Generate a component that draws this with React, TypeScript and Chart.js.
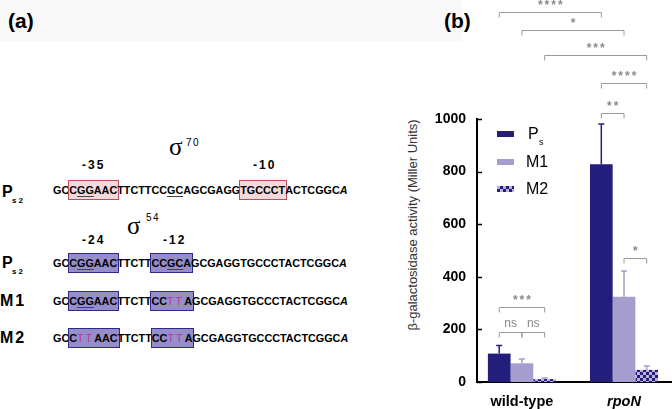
import React, { useEffect, useRef } from 'react';
import { Chart, registerables } from 'chart.js';
Chart.register(...registerables);

const FONT = '"Liberation Sans", Arial, Helvetica, sans-serif';

// ---------- data ----------
const categories = ['wild-type', 'rpoN'];
const seriesNames = ['Ps', 'M1', 'M2'];
const psValues = [108, 828];
const m1Values = [71, 324];
const m2Values = [11, 46];
const psErrTop = [139, 981];
const m1ErrTop = [87, 422];
const m2ErrTop = [15, 61];
const yTickStep = 200;
const yMax = 1000;

// significance brackets: [category, series] pairs and the level (data units)
const bracketFrom: [number, number][] = [[0, 0], [0, 1], [0, 2], [1, 0], [1, 0], [1, 1], [0, 0], [0, 0], [0, 1]];
const bracketTo: [number, number][] = [[1, 0], [1, 1], [1, 2], [1, 2], [1, 1], [1, 2], [0, 2], [0, 1], [0, 2]];
const bracketLevel = [1405, 1338, 1243, 1137, 1023, 471, 285, 190, 190];
const bracketLabel = ['****', '*', '***', '****', '**', '*', '***', 'ns', 'ns'];

// sequences: [..] box, _.._ underline, {..} mutated base, /../ italic
const seqSigma70 = 'GC[C_GG_AAC]TTCTTCC_GC_AGCGAGG[TGCCCT]ACTCGGC/A/';
const seqPs2 = 'GC[C_GG_AAC]TTCTT[CC_GC_A]GCGAGGTGCCCTACTCGGC/A/';
const seqM1 = 'GC[C_GG_AAC]TTCTT[CC{TT}A]GCGAGGTGCCCTACTCGGC/A/';
const seqM2 = 'GC[C{TT}AAC]TTCTT[CC{TT}A]GCGAGGTGCCCTACTCGGC/A/';

const NAVY = '#231d7b';
const LILAC = '#a59dcd';
const LILAC_LIGHT = '#b9b2dd';
const PINK_FILL = '#f3d9dc';
const PINK_EDGE = '#c04b5a';
const PURPLE_FILL = '#968dcb';
const PURPLE_EDGE = '#2e2a8c';
const MUT = '#c0359a';

type Tok = { t: string; u: boolean; m: boolean; i: boolean };
type Group = { box: boolean; toks: Tok[] };

function parseSeq(s: string): Group[] {
  const groups: Group[] = [{ box: false, toks: [] }];
  let u = false, m = false, it = false;
  for (const ch of s) {
    if (ch === '[') { groups.push({ box: true, toks: [] }); continue; }
    if (ch === ']') { groups.push({ box: false, toks: [] }); continue; }
    if (ch === '_') { u = !u; continue; }
    if (ch === '{') { m = true; continue; }
    if (ch === '}') { m = false; continue; }
    if (ch === '/') { it = !it; continue; }
    const g = groups[groups.length - 1];
    const last = g.toks[g.toks.length - 1];
    if (last && last.u === u && last.m === m && last.i === it) last.t += ch;
    else g.toks.push({ t: ch, u, m, i: it });
  }
  return groups;
}

function Seq({ seq, top, fill, edge }: { seq: string; top: number; fill: string; edge: string }) {
  const groups = parseSeq(seq);
  const renderTok = (k: Tok, j: number) => (
    <span key={j} style={{
      textDecoration: k.u ? 'underline' : 'none',
      textDecorationColor: '#444',
      textUnderlineOffset: '2px',
      color: k.m ? MUT : '#000',
      fontWeight: k.m ? 'normal' : 'bold',
      letterSpacing: k.m ? '2px' : undefined,
      fontStyle: k.i ? 'italic' : 'normal',
    }}>{k.t}</span>
  );
  return (
    <div style={{ position: 'absolute', left: 53, top, fontSize: 10.8, lineHeight: '14px', fontWeight: 'bold', whiteSpace: 'nowrap', fontFamily: FONT }}>
      {groups.map((g, gi) => g.box ? (
        <span key={gi} style={{
          background: fill, boxShadow: `inset 0 0 0 1px ${edge}`,
          padding: '4px 2px 4px 1px', margin: '0 -2px 0 -1px',
        }}>{g.toks.map(renderTok)}</span>
      ) : <React.Fragment key={gi}>{g.toks.map(renderTok)}</React.Fragment>)}
    </div>
  );
}

function makePattern(): CanvasPattern | string {
  const c = document.createElement('canvas');
  c.width = 6; c.height = 6;
  const x = c.getContext('2d');
  if (!x) return LILAC_LIGHT;
  x.fillStyle = LILAC_LIGHT; x.fillRect(0, 0, 6, 6);
  x.fillStyle = NAVY; x.fillRect(0, 0, 3, 3); x.fillRect(3, 3, 3, 3);
  return x.createPattern(c, 'repeat') || LILAC_LIGHT;
}

const errorBarPlugin = {
  id: 'errorBars',
  afterDatasetsDraw(chart: any) {
    const ctx = chart.ctx; const y = chart.scales.y;
    chart.data.datasets.forEach((ds: any, di: number) => {
      const meta = chart.getDatasetMeta(di);
      meta.data.forEach((bar: any, i: number) => {
        const yt = y.getPixelForValue(ds.errTop[i]);
        ctx.save();
        ctx.strokeStyle = ds.errColor; ctx.lineWidth = 1.5;
        ctx.beginPath();
        ctx.moveTo(bar.x, bar.y); ctx.lineTo(bar.x, yt);
        ctx.moveTo(bar.x - 3, yt); ctx.lineTo(bar.x + 3, yt);
        ctx.stroke(); ctx.restore();
      });
    });
  },
};

const axisTickPlugin = {
  id: 'innerTicks',
  afterDraw(chart: any) {
    const ctx = chart.ctx; const y = chart.scales.y; const left = chart.chartArea.left;
    ctx.save(); ctx.strokeStyle = '#000'; ctx.lineWidth = 1.5;
    y.ticks.forEach((t: any) => {
      const py = Math.round(y.getPixelForValue(t.value)) + 0.5;
      ctx.beginPath(); ctx.moveTo(left, py); ctx.lineTo(left + 5, py); ctx.stroke();
    });
    ctx.restore();
  },
};

const bracketPlugin = {
  id: 'brackets',
  afterDraw(chart: any) {
    const ctx = chart.ctx; const y = chart.scales.y;
    const px = (p: [number, number]) => chart.getDatasetMeta(p[1]).data[p[0]].x;
    ctx.save();
    bracketLabel.forEach((lab, k) => {
      const x1 = px(bracketFrom[k]); const x2 = px(bracketTo[k]);
      const py = Math.round(y.getPixelForValue(bracketLevel[k])) + 0.5;
      ctx.strokeStyle = '#9a9a9a'; ctx.lineWidth = 1;
      ctx.beginPath();
      ctx.moveTo(x1, py + 5); ctx.lineTo(x1, py); ctx.lineTo(x2, py); ctx.lineTo(x2, py + 5);
      ctx.stroke();
      ctx.fillStyle = '#8a8a8a';
      ctx.textAlign = 'center'; ctx.textBaseline = 'bottom';
      if (lab === 'ns') {
        ctx.font = `12px ${FONT}`;
        (ctx as any).letterSpacing = '0px';
        ctx.fillText(lab, (x1 + x2) / 2, py - 3);
      } else {
        ctx.font = `bold 12px ${FONT}`;
        (ctx as any).letterSpacing = '2px';
        ctx.fillText(lab, (x1 + x2) / 2 + 1, py - 1);
      }
    });
    ctx.restore();
  },
};

function BarChart() {
  const ref = useRef<HTMLCanvasElement | null>(null);
  useEffect(() => {
    if (!ref.current) return;
    const pattern = makePattern();
    const values = [psValues, m1Values, m2Values];
    const errs = [psErrTop, m1ErrTop, m2ErrTop];
    const fills = [NAVY, LILAC, pattern];
    const errColors = [NAVY, LILAC, LILAC];
    const chart = new Chart(ref.current, {
      type: 'bar',
      data: {
        datasets: seriesNames.map((name, s) => ({
          label: name,
          data: categories.map((_, i) => ({ x: i, y: values[s][i] })),
          backgroundColor: fills[s] as any,
          borderWidth: 0,
          errTop: errs[s],
          errColor: errColors[s],
        })) as any,
      },
      options: {
        animation: false,
        responsive: false,
        maintainAspectRatio: false,
        devicePixelRatio: 1,
        layout: { padding: { top: 119, left: 0, right: 0, bottom: 0 } },
        datasets: { bar: { categoryPercentage: 0.667, barPercentage: 1 } },
        plugins: { legend: { display: false }, tooltip: { enabled: false } },
        scales: {
          x: {
            type: 'linear', min: -0.44, max: 1.47, offset: false,
            afterBuildTicks: (s: any) => { s.ticks = categories.map((_, i) => ({ value: i })); },
            afterFit: (s: any) => { s.height = 27; },
            grid: { display: false, drawTicks: false },
            border: { display: true, color: '#000', width: 2 },
            ticks: {
              padding: 11, color: '#000', maxRotation: 0, autoSkip: false,
              callback: (v: any) => categories[v as number] ?? '',
              font: (c: any) => ({ family: FONT, size: 14.5, weight: 'bold', style: c.index === 1 ? 'italic' : 'normal' }),
            },
          },
          y: {
            min: 0, max: yMax,
            afterFit: (s: any) => { s.width = 77; },
            grid: { display: false, drawTicks: false },
            border: { display: true, color: '#000', width: 2 },
            ticks: {
              stepSize: yTickStep, padding: 11, color: '#000',
              callback: (v: any) => String(v),
              font: { family: FONT, size: 14, weight: 'bold' },
            },
          },
        },
      } as any,
      plugins: [errorBarPlugin, axisTickPlugin, bracketPlugin],
    });
    return () => chart.destroy();
  }, []);
  return <canvas ref={ref} width={272} height={409} style={{ position: 'absolute', left: 400, top: 0, width: 272, height: 409 }} />;
}

const abs = (left: number, top: number, extra: React.CSSProperties = {}): React.CSSProperties => ({
  position: 'absolute', left, top, whiteSpace: 'nowrap', ...extra,
});

export default function App() {
  useEffect(() => { document.body.style.margin = '0'; }, []);
  const bold = { fontWeight: 'bold' as const, fontFamily: FONT };
  return (
    <div style={{ position: 'absolute', left: 0, top: 0, width: 672, height: 409, overflow: 'hidden', background: '#fff', fontFamily: FONT, color: '#000' }}>
      <div style={{ position: 'absolute', left: 0, top: 0, width: 462, height: 41, background: '#f8f8f8' }} />
      <div style={abs(8, 10, { ...bold, fontSize: 21, lineHeight: '21px' })}>(a)</div>
      <div style={abs(444, 10, { ...bold, fontSize: 21, lineHeight: '21px' })}>(b)</div>

      {/* sigma 70 block */}
      <div style={abs(169, 134, { fontFamily: '"Liberation Serif", serif', fontSize: 25, lineHeight: '25px' })}>σ</div>
      <div style={abs(186, 138, { fontSize: 10, lineHeight: '10px', letterSpacing: '1.5px' })}>70</div>
      <div style={abs(82, 158, { ...bold, fontSize: 12, lineHeight: '14px', letterSpacing: '2px' })}>-35</div>
      <div style={abs(253, 158, { ...bold, fontSize: 12, lineHeight: '14px', letterSpacing: '2px' })}>-10</div>
      <div style={abs(2, 184, { ...bold, fontSize: 16, lineHeight: '16px' })}>P</div>
      <div style={abs(12, 197, { ...bold, fontSize: 8, lineHeight: '8px', letterSpacing: '2px' })}>s2</div>
      <Seq seq={seqSigma70} top={183} fill={PINK_FILL} edge={PINK_EDGE} />

      {/* sigma 54 block */}
      <div style={abs(127, 213, { fontFamily: '"Liberation Serif", serif', fontSize: 25, lineHeight: '25px' })}>σ</div>
      <div style={abs(146, 213, { fontSize: 10, lineHeight: '10px', letterSpacing: '1.5px' })}>54</div>
      <div style={abs(82, 233, { ...bold, fontSize: 12, lineHeight: '14px', letterSpacing: '2px' })}>-24</div>
      <div style={abs(163, 233, { ...bold, fontSize: 12, lineHeight: '14px', letterSpacing: '2px' })}>-12</div>
      <div style={abs(2, 255, { ...bold, fontSize: 16, lineHeight: '16px' })}>P</div>
      <div style={abs(12, 268, { ...bold, fontSize: 8, lineHeight: '8px', letterSpacing: '2px' })}>s2</div>
      <Seq seq={seqPs2} top={256} fill={PURPLE_FILL} edge={PURPLE_EDGE} />
      <div style={abs(0, 293, { ...bold, fontSize: 16, lineHeight: '16px', letterSpacing: '2px' })}>M1</div>
      <Seq seq={seqM1} top={294} fill={PURPLE_FILL} edge={PURPLE_EDGE} />
      <div style={abs(0, 330, { ...bold, fontSize: 16, lineHeight: '16px', letterSpacing: '2px' })}>M2</div>
      <Seq seq={seqM2} top={331} fill={PURPLE_FILL} edge={PURPLE_EDGE} />

      {/* chart (b) */}
      <div style={{ position: 'absolute', left: 412, top: 225, transform: 'translate(-50%, -50%) rotate(-90deg)', whiteSpace: 'nowrap', fontSize: 13, color: '#333', fontFamily: FONT }}>β-galactosidase activity (Miller Units)</div>
      <BarChart />

      {/* legend */}
      <div style={abs(497, 131, { width: 17, height: 6, background: NAVY })} />
      <div style={abs(528, 126, { fontSize: 16, lineHeight: '16px' })}>P</div>
      <div style={abs(539, 138, { fontSize: 9, lineHeight: '9px' })}>s</div>
      <div style={abs(497, 159, { width: 17, height: 6, background: LILAC })} />
      <div style={abs(526, 154, { fontSize: 16, lineHeight: '16px' })}>M1</div>
      <div style={abs(497, 186, { width: 17, height: 6, background: `repeating-conic-gradient(${NAVY} 0 25%, ${LILAC_LIGHT} 0 50%) 0 0 / 6px 6px` })} />
      <div style={abs(526, 181, { fontSize: 16, lineHeight: '16px' })}>M2</div>
    </div>
  );
}
